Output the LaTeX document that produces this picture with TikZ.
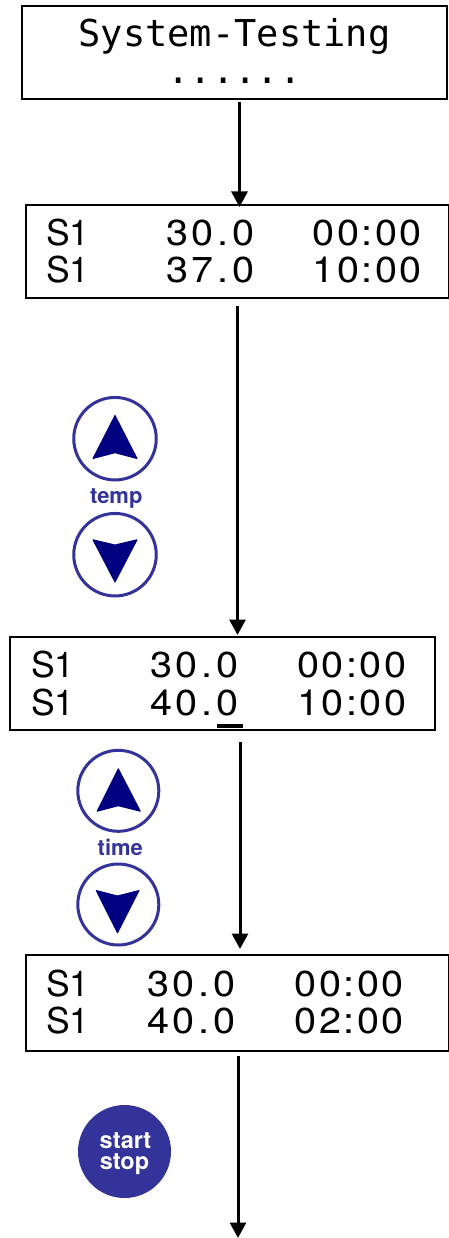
\documentclass[tikz,border=0pt]{standalone}
\usepackage{fontspec}
\setmainfont{TeX Gyre Heros}
\newfontfamily\lcdmono{DejaVu Sans Mono}
\newfontfamily\lcdsans[FakeStretch=1.1,LetterSpace=10]{TeX Gyre Heros}
\newfontfamily\lcdclock[FakeStretch=1.1,LetterSpace=7]{TeX Gyre Heros}
\newfontfamily\lcdplain{TeX Gyre Heros}
\usetikzlibrary{arrows.meta}
\definecolor{btnblue}{HTML}{333399}
\definecolor{btnnavy}{HTML}{000080}
\tikzset{
  screen/.style={draw=black,line width=2pt,fill=white},
  flow/.style={line width=3pt,-{Triangle[width=16pt,length=15.5pt]}},
  lcdtext/.style={inner sep=0pt,anchor=base west,font=\lcdplain\fontsize{35.5}{35.5}\selectfont},
  lcdnum/.style={inner sep=0pt,anchor=base west,font=\lcdsans\fontsize{36}{36}\selectfont},
  lcdtime/.style={inner sep=0pt,anchor=base west,font=\lcdclock\fontsize{36}{36}\selectfont},
  monotext/.style={inner sep=0pt,anchor=base,font=\lcdmono\fontsize{37}{37}\selectfont},
  ringbtn/.style={circle,draw=btnblue,line width=3pt,fill=white,inner sep=0pt},
  btnlabel/.style={inner sep=0pt,anchor=base,text=btnblue,font=\bfseries\fontsize{22}{22}\selectfont},
  solidbtn/.style={circle,fill=btnblue,inner sep=0pt,minimum size=93pt},
  startlabel/.style={inner sep=0pt,anchor=base,text=white,font=\bfseries\fontsize{23.5}{23.5}\selectfont},
  arrowglyph/.style={fill=btnnavy,draw=btnnavy,line width=1pt,line join=round},
}
\begin{document}
\begin{tikzpicture}[x=1pt,y=-1pt]
\useasboundingbox (0,0) rectangle (449,1238);
% boxes
\draw[screen] (22,6) rectangle (447,99);
\draw[screen] (26,205) rectangle (449,298);
\draw[screen] (10,637) rectangle (435,730);
\draw[screen] (26,955) rectangle (449,1051);
% box 1
\node[monotext] (title) at (234.5,46.5) {System-Testing};
\node[monotext] (dots) at (234.5,84) {......};
% box 2
\node[lcdtext] (s1a) at (46,245.5) {S1};
\node[lcdnum] (ta1) at (166,245.5) {30.0};
\node[lcdtime] (ca1) at (312.5,245.5) {00:00};
\node[lcdtext] (s1b) at (46,283) {S1};
\node[lcdnum] (ta2) at (166,283) {37.0};
\node[lcdtime] (ca2) at (312.5,283) {10:00};
% box 3
\node[lcdtext] (s2a) at (31,677.5) {S1};
\node[lcdnum] (tb1) at (150,677.5) {30.0};
\node[lcdtime] (cb1) at (297,677.5) {00:00};
\node[lcdtext] (s2b) at (31,715) {S1};
\node[lcdnum] (tb2) at (150,715) {40.0};
\node[lcdtime] (cb2) at (297,715) {10:00};
\fill[black] (217,723.6) rectangle (243,727.6);
% box 4
\node[lcdtext] (s3a) at (46,996) {S1};
\node[lcdnum] (tc1) at (147,996) {30.0};
\node[lcdtime] (cc1) at (294.5,996) {00:00};
\node[lcdtext] (s3b) at (46,1033.5) {S1};
\node[lcdnum] (tc2) at (147,1033.5) {40.0};
\node[lcdtime] (cc2) at (294.5,1033.5) {02:00};
% connectors
\coordinate (f1s) at (239.5,102);\coordinate (f1e) at (239.5,207);
\coordinate (f2s) at (237.5,306);\coordinate (f2e) at (237.5,635);
\coordinate (f3s) at (240,742);\coordinate (f3e) at (240,949);
\coordinate (f4s) at (238,1056);\coordinate (f4e) at (238,1238);
\draw[flow] (f1s) -- (f1e);
\draw[flow] (f2s) -- (f2e);
\draw[flow] (f3s) -- (f3e);
\draw[flow] (f4s) -- (f4e);
% temp buttons
\node[ringbtn,minimum size=82.5pt] (tu) at (115,438.7) {};
\draw[arrowglyph] (115,415.5) -- (137,458.5) -- (115,452.7) -- (93,458.5) -- cycle;
\node[btnlabel] (templ) at (116.3,503.5) {temp};
\node[ringbtn,minimum size=82.5pt] (td) at (115,554.7) {};
\draw[arrowglyph] (115,582) -- (137,539.8) -- (115,545) -- (93,539.8) -- cycle;
% time buttons
\node[ringbtn,minimum size=81pt] (mu) at (118.3,790.8) {};
\draw[arrowglyph] (118.3,768.8) -- (140.3,811.2) -- (118.3,805.7) -- (97.2,811.2) -- cycle;
\node[btnlabel] (timel) at (120.3,855) {time};
\node[ringbtn,minimum size=81pt] (md) at (118.3,904.5) {};
\draw[arrowglyph] (117.5,932.8) -- (139,890.5) -- (117.5,896) -- (96.2,890.5) -- cycle;
% start stop
\node[solidbtn] (ss) at (124.5,1151.5) {};
\node[startlabel] (startl) at (125.5,1148) {start};
\node[startlabel] (stopl) at (124.5,1169.5) {stop};
\end{tikzpicture}
\end{document}
